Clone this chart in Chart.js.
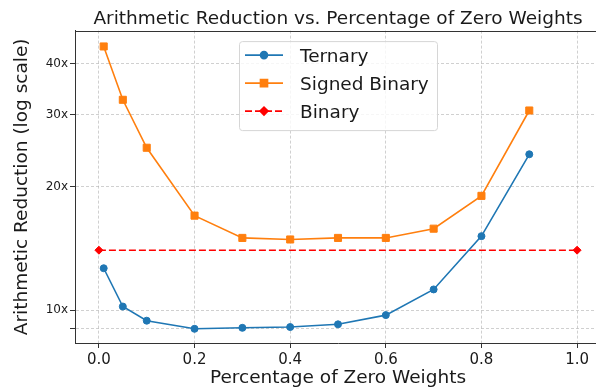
<!DOCTYPE html>
<html>
<head>
<meta charset="utf-8">
<script src="https://cdn.jsdelivr.net/npm/chart.js@4.4.0/dist/chart.umd.min.js"></script>
<style>
  html, body { margin: 0; padding: 0; background: #fff; }
  #wrap { width: 596px; height: 389px; overflow: hidden; }
</style>
</head>
<body>
<div id="wrap"><canvas id="chart" width="620" height="389"></canvas></div>
<script>
// Values
const sparsity = [0.01, 0.05, 0.1, 0.2, 0.3, 0.4, 0.5, 0.6, 0.7, 0.8, 0.9];
const ternary = [12.65, 10.2, 9.42, 9.0, 9.05, 9.09, 9.23, 9.72, 11.23, 15.15, 24.0];
const signedBinary = [44.0, 32.6, 24.9, 17.0, 15.0, 14.87, 15.0, 15.0, 15.8, 19.0, 30.7];
const binaryX = [0.0, 1.0];
const binary = [14.0, 14.0];

// Axis ticks
const xTicks = [0, 0.2, 0.4, 0.6, 0.8, 1.0];
const yTicks = [9, 10, 20, 30, 40];
const yLabels = ['', '10x', '20x', '30x', '40x'];

const FONT = 'DejaVu Sans';

const toPoints = (xs, ys) => xs.map((x, i) => ({ x: x, y: ys[i] }));

// Top spine (matplotlib draws a box round the axes)
const topSpine = {
  id: 'topSpine',
  afterDraw: function(chart) {
    const { ctx, chartArea } = chart;
    ctx.save();
    ctx.strokeStyle = '#333';
    ctx.lineWidth = 1;
    ctx.beginPath();
    ctx.moveTo(chartArea.left, Math.round(chartArea.top) + 0.5);
    ctx.lineTo(chartArea.right, Math.round(chartArea.top) + 0.5);
    ctx.stroke();
    ctx.restore();
  }
};

// Legend drawn inside the plot, upper centre
const innerLegend = {
  id: 'innerLegend',
  afterDraw: function(chart) {
    const { ctx, chartArea } = chart;
    const left = chartArea.left + 164;
    const top = chartArea.top + 10.5;
    const w = 198, h = 89;

    ctx.save();
    ctx.fillStyle = 'rgba(255,255,255,0.8)';
    ctx.strokeStyle = '#d6d6d6';
    ctx.lineWidth = 1;
    ctx.beginPath();
    if (ctx.roundRect) ctx.roundRect(left + 0.5, top + 0.5, w, h, 3);
    else ctx.rect(left + 0.5, top + 0.5, w, h);
    ctx.fill();
    ctx.stroke();

    chart.data.datasets.forEach((ds, i) => {
      const y = top + 14 + i * 28;
      ctx.strokeStyle = ds.borderColor;
      ctx.lineWidth = ds.borderWidth;
      ctx.setLineDash(ds.borderDash || []);
      ctx.beginPath();
      ctx.moveTo(left + 6, y);
      ctx.lineTo(left + 44, y);
      ctx.stroke();
      ctx.setLineDash([]);

      ctx.fillStyle = ds.backgroundColor;
      ctx.strokeStyle = ds.borderColor;
      Chart.helpers.drawPoint(ctx, {
        pointStyle: ds.pointStyle,
        radius: ds.pointRadius,
        rotation: 0,
        borderWidth: 1
      }, left + 25, y);

      ctx.fillStyle = '#1a1a1a';
      ctx.font = '18.5px "' + FONT + '"';
      ctx.textBaseline = 'alphabetic';
      ctx.textAlign = 'left';
      ctx.fillText(ds.label, left + 61, y + 6.7);
    });
    ctx.restore();
  }
};

const gridStyle = {
  color: 'rgba(176,176,176,0.75)',
  lineWidth: 0.8,
  tickColor: '#333',
  tickLength: 5,
  tickWidth: 1,
  tickBorderDash: []
};

const chart = new Chart(document.getElementById('chart').getContext('2d'), {
  type: 'line',
  data: {
    datasets: [
      {
        label: 'Ternary',
        data: toPoints(sparsity, ternary),
        borderColor: '#1f77b4',
        backgroundColor: '#1f77b4',
        borderWidth: 1.6,
        pointStyle: 'circle',
        pointRadius: 3.5,
        pointBorderWidth: 1
      },
      {
        label: 'Signed Binary',
        data: toPoints(sparsity, signedBinary),
        borderColor: '#ff7f0e',
        backgroundColor: '#ff7f0e',
        borderWidth: 1.6,
        pointStyle: 'rect',
        pointRadius: 5,
        pointBorderWidth: 1
      },
      {
        label: 'Binary',
        data: toPoints(binaryX, binary),
        borderColor: '#ff0000',
        backgroundColor: '#ff0000',
        borderWidth: 1.6,
        borderDash: [7, 3],
        pointStyle: 'rectRot',
        pointRadius: 4,
        pointBorderWidth: 1
      }
    ]
  },
  options: {
    responsive: false,
    animation: false,
    layout: { padding: { left: 0, right: 19, top: 0, bottom: 0 } },
    plugins: {
      legend: { display: false },
      tooltip: { enabled: false },
      title: {
        display: true,
        fullSize: false,
        text: 'Arithmetic Reduction vs. Percentage of Zero Weights',
        color: '#1a1a1a',
        font: { family: FONT, size: 18.5, weight: 'normal', lineHeight: 1.2 },
        padding: { top: 8.4, bottom: 0 }
      }
    },
    scales: {
      x: {
        type: 'linear',
        min: -0.05,
        max: 1.05,
        afterBuildTicks: function(scale) {
          scale.ticks = xTicks.map(v => ({ value: v }));
        },
        afterFit: function(scale) {
          scale.height = 46;
        },
        ticks: {
          color: '#1a1a1a',
          font: { family: FONT, size: 15 },
          padding: 3,
          maxRotation: 0,
          callback: function(value) {
            return value.toFixed(1);
          }
        },
        grid: gridStyle,
        border: { display: true, color: '#333', width: 1, dash: [3, 2] },
        title: {
          display: true,
          text: 'Percentage of Zero Weights',
          color: '#1a1a1a',
          font: { family: FONT, size: 18.5, lineHeight: 1.2 },
          padding: { top: 0, bottom: 0 }
        }
      },
      y: {
        type: 'logarithmic',
        min: 8.31,
        max: 48.1,
        afterBuildTicks: function(scale) {
          scale.ticks = yTicks.map(v => ({ value: v }));
        },
        afterFit: function(scale) {
          scale.width = 75;
        },
        ticks: {
          color: '#1a1a1a',
          font: { family: FONT, size: 12 },
          padding: 2,
          callback: function(value) {
            const i = yTicks.indexOf(value);
            return i >= 0 ? yLabels[i] : '';
          }
        },
        grid: gridStyle,
        border: { display: true, color: '#333', width: 1, dash: [3, 2] },
        title: {
          display: true,
          text: 'Arithmetic Reduction (log scale)',
          color: '#1a1a1a',
          font: { family: FONT, size: 18.5, lineHeight: 1.2 },
          padding: { top: 11, bottom: 0 }
        }
      }
    }
  },
  plugins: [topSpine, innerLegend]
});
</script>
</body>
</html>
